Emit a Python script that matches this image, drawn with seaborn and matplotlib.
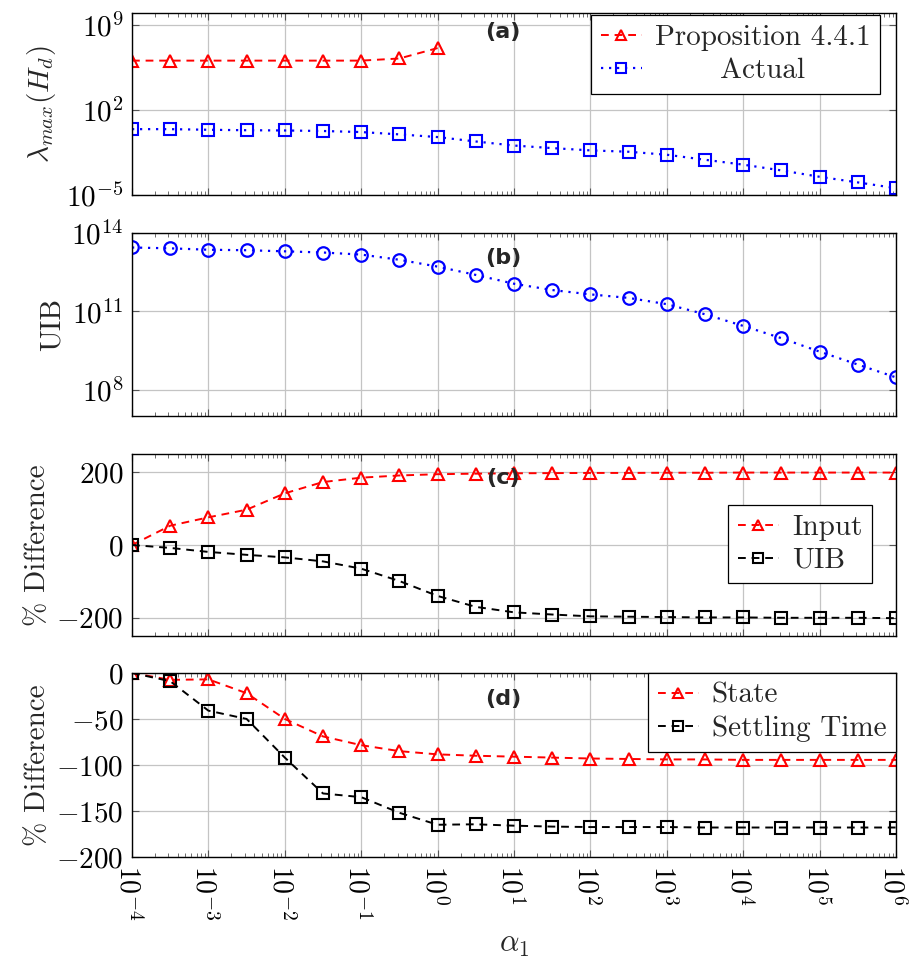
import numpy as np
import pandas as pd
import matplotlib
matplotlib.use("Agg")
import matplotlib.pyplot as plt
import seaborn as sns
from matplotlib.ticker import FixedLocator, NullLocator, FuncFormatter, NullFormatter
from matplotlib.transforms import ScaledTranslation

# ---------------- data ----------------
alpha_exp = [-4.0, -3.5, -3.0, -2.5, -2.0, -1.5, -1.0, -0.5, 0.0, 0.5, 1.0,
             1.5, 2.0, 2.5, 3.0, 3.5, 4.0, 4.5, 5.0, 5.5, 6.0]
alpha = [10.0 ** e for e in alpha_exp]

prop_441 = [1.2e6, 1.2e6, 1.2e6, 1.2e6, 1.2e6, 1.2e6, 1.2e6, 1.8e6, 1.3e7]
actual = [2.7, 2.7, 2.4, 2.2, 2.1, 1.9, 1.55, 1.0, 0.6, 0.26, 0.12, 0.074,
          0.048, 0.037, 0.021, 0.0081, 0.0032, 0.00107, 3.2e-4, 1.1e-4, 3.7e-5]

uib = [2.8e13, 2.6e13, 2.3e13, 2.2e13, 2.0e13, 1.8e13, 1.5e13, 9.5e12, 5.2e12,
       2.5e12, 1.15e12, 6.6e11, 4.5e11, 3.3e11, 1.9e11, 7.8e10, 2.8e10, 9.5e9,
       2.9e9, 9.3e8, 3.0e8]

input_diff = [0, 53, 76, 97, 142, 173, 185, 191, 194.5, 196, 197, 197.5, 198,
              198, 198.5, 198.5, 199, 199, 199, 199, 199]
uib_diff = [0, -8, -19, -27, -34, -45, -65, -99, -140, -170, -185, -191, -196,
            -197, -198, -199, -199, -200, -200, -200, -201]

state_diff = [0, -7.5, -7, -22, -50, -69, -78.5, -85, -88.5, -90, -91, -92,
              -93, -93.5, -94, -94, -94.5, -94.5, -94.5, -94.5, -94.5]
settling_diff = [0, -9, -41, -50, -92, -131, -135, -152, -165, -164.5, -166,
                 -167, -167.5, -167.5, -167.5, -168, -168, -168, -168, -168, -168]

x_tick_exp = [-4, -3, -2, -1, 0, 1, 2, 3, 4, 5, 6]
# --------------------------------------

sns.set_theme(style="white")
plt.rcParams["font.family"] = ["cmr10"]
plt.rcParams["mathtext.fontset"] = "cm"
plt.rcParams["axes.formatter.use_mathtext"] = True
plt.rcParams["axes.unicode_minus"] = True

FS = 21
fig = plt.figure(figsize=(9.09, 9.67), dpi=100)
W = 764 / 909
boxes = [(0.7983, 0.1882), (0.5698, 0.1892), (0.3423, 0.1882), (0.1138, 0.1903)]
axes = [fig.add_axes([132 / 909, y0, W, h]) for (y0, h) in boxes]

dash = (0, (4, 3))
dot = (0, (1, 2.6))

for i, ax in enumerate(axes):
    ax.set_xscale("log")
    if i < 2:
        ax.set_yscale("log")
    ax.set_xlim(1e-4, 1e6)

tri = dict(marker="^", markersize=8, markerfacecolor="none", markeredgewidth=1.5)
sq = dict(marker="s", markersize=8, markerfacecolor="none", markeredgewidth=1.5)

df_a1 = pd.DataFrame({"alpha": alpha[:len(prop_441)], "val": prop_441})
df_a2 = pd.DataFrame({"alpha": alpha, "val": actual})
sns.lineplot(data=df_a1, x="alpha", y="val", ax=axes[0], color="red", linestyle=dash,
             linewidth=1.4, markeredgecolor="red", label="Proposition 4.4.1", **tri)
sns.lineplot(data=df_a2, x="alpha", y="val", ax=axes[0], color="blue", linestyle=dot,
             linewidth=1.6, markeredgecolor="blue", label="Actual", **sq)

df_b = pd.DataFrame({"alpha": alpha, "val": uib})
sns.lineplot(data=df_b, x="alpha", y="val", ax=axes[1], color="blue", linestyle=dot,
             linewidth=1.6, marker="o", markersize=9, markerfacecolor="none",
             markeredgecolor="blue", markeredgewidth=1.6, legend=False)

df_c = pd.DataFrame({"alpha": alpha, "inp": input_diff, "uib": uib_diff})
sns.lineplot(data=df_c, x="alpha", y="inp", ax=axes[2], color="red", linestyle=dash,
             linewidth=1.4, markeredgecolor="red", label="Input", **tri)
sns.lineplot(data=df_c, x="alpha", y="uib", ax=axes[2], color="black", linestyle=dash,
             linewidth=1.4, markeredgecolor="black", label="UIB", **sq)

df_d = pd.DataFrame({"alpha": alpha, "st": state_diff, "set": settling_diff})
sns.lineplot(data=df_d, x="alpha", y="st", ax=axes[3], color="red", linestyle=dash,
             linewidth=1.4, markeredgecolor="red", label="State", **tri)
sns.lineplot(data=df_d, x="alpha", y="set", ax=axes[3], color="black", linestyle=dash,
             linewidth=1.4, markeredgecolor="black", label="Settling Time", **sq)

# y limits / ticks
axes[0].set_ylim(1e-5, 1e10)
axes[0].yaxis.set_major_locator(FixedLocator([1e-5, 1e2, 1e9]))
axes[1].set_ylim(1e7, 1e14)
axes[1].yaxis.set_major_locator(FixedLocator([1e8, 1e11, 1e14]))
axes[2].set_ylim(-250, 250)
axes[2].yaxis.set_major_locator(FixedLocator([-200, 0, 200]))
axes[3].set_ylim(-200, 0)
axes[3].yaxis.set_major_locator(FixedLocator([-200, -150, -100, -50, 0]))

logfmt = FuncFormatter(lambda v, p: r"$10^{%d}$" % int(round(np.log10(v))))
linfmt = FuncFormatter(lambda v, p: r"$%d$" % int(round(v)))

xmajor = [10.0 ** e for e in x_tick_exp]
xminor = [m * 10.0 ** e for e in x_tick_exp[:-1] for m in range(2, 10)]

for i, ax in enumerate(axes):
    ax.xaxis.set_major_locator(FixedLocator(xmajor))
    ax.xaxis.set_minor_locator(FixedLocator(xminor))
    ax.xaxis.set_minor_formatter(NullFormatter())
    ax.yaxis.set_minor_locator(NullLocator())
    ax.yaxis.set_major_formatter(logfmt if i < 2 else linfmt)
    if i < 3:
        ax.xaxis.set_major_formatter(NullFormatter())
    else:
        ax.xaxis.set_major_formatter(logfmt)
    ax.grid(True, which="major", color="#c4c4c4", linewidth=0.9)
    ax.set_axisbelow(True)
    ax.tick_params(which="both", direction="in", top=True, right=True,
                   bottom=True, left=True, color="#555555", labelsize=FS,
                   labelcolor="black")
    ax.tick_params(which="major", length=5, width=0.8, pad=6)
    ax.tick_params(which="minor", length=3.2, width=0.6)
    for s in ax.spines.values():
        s.set_color("black")
        s.set_linewidth(1.0)
    ax.set_xlabel("")

axes[3].tick_params(axis="x", which="major", labelrotation=-90, pad=6, labelsize=FS - 1)

axes[0].set_ylabel(r"$\lambda_{max}(H_d)$", fontsize=FS, labelpad=6)
axes[1].set_ylabel("UIB", fontsize=FS, labelpad=4)
axes[2].set_ylabel("% Difference", fontsize=FS, labelpad=4)
axes[3].set_ylabel("% Difference", fontsize=FS, labelpad=4)
axes[3].set_xlabel(r"$\alpha_1$", fontsize=FS + 1, labelpad=8)

for ax, lab, yy in zip(axes, ["(a)", "(b)", "(c)", "(d)"], [0.896, 0.863, 0.868, 0.859]):
    ax.text(0.486, yy, lab, transform=ax.transAxes, ha="center", va="center",
            fontsize=16, fontweight="bold", family="DejaVu Sans")

leg_kw = dict(fontsize=FS, frameon=True, fancybox=False, framealpha=1,
              edgecolor="black", handlelength=1.4, handletextpad=0.45,
              borderpad=0.33, labelspacing=0.22, borderaxespad=0, loc="upper right",
              markerscale=0.85)
leg_a = axes[0].legend(bbox_to_anchor=(0.979, 0.989), **leg_kw)
leg_c = axes[2].legend(bbox_to_anchor=(0.9686, 0.7198), **leg_kw)
leg_d = axes[3].legend(bbox_to_anchor=(1.0, 1.0), **leg_kw)
for lg in (leg_a, leg_c, leg_d):
    lg.get_frame().set_linewidth(0.9)

# centre the legend text in panel (a), as in the original
renderer = fig.canvas.get_renderer()
widths = [t.get_window_extent(renderer).width for t in leg_a.get_texts()]
wmax = max(widths)
for t, w in zip(leg_a.get_texts(), widths):
    t.set_ha("center")
    t.set_position((wmax / 2 - w / 2, 0))

# nudge the rotated x tick labels slightly left so the last one stays inside
fig.canvas.draw()
shift = ScaledTranslation(-3 / 72, 0, fig.dpi_scale_trans)
for lbl in axes[3].get_xticklabels():
    lbl.set_transform(lbl.get_transform() + shift)

fig.savefig("out.png", dpi=100)
